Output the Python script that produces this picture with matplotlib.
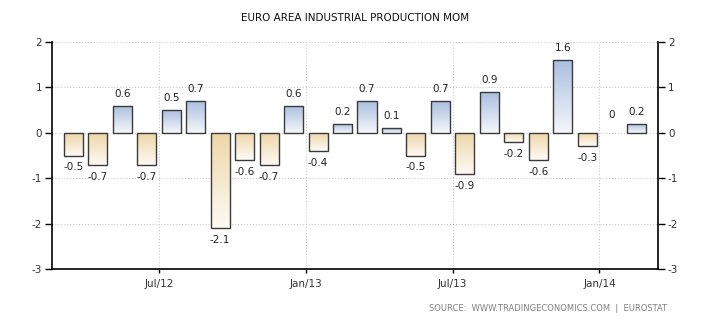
import numpy as np
import matplotlib
matplotlib.use('Agg')
import matplotlib.pyplot as plt
from matplotlib.colors import LinearSegmentedColormap

# Euro area industrial production, month over month (%), Mar 2012 - Feb 2014
months = ['Mar/12', 'Apr/12', 'May/12', 'Jun/12', 'Jul/12', 'Aug/12', 'Sep/12', 'Oct/12',
          'Nov/12', 'Dec/12', 'Jan/13', 'Feb/13', 'Mar/13', 'Apr/13', 'May/13', 'Jun/13',
          'Jul/13', 'Aug/13', 'Sep/13', 'Oct/13', 'Nov/13', 'Dec/13', 'Jan/14', 'Feb/14']
values = [-0.5, -0.7, 0.6, -0.7, 0.5, 0.7, -2.1, -0.6, -0.7, 0.6, -0.4, 0.2,
          0.7, 0.1, -0.5, 0.7, -0.9, 0.9, -0.2, -0.6, 1.6, -0.3, 0.0, 0.2]
tick_labels = ['Jul/12', 'Jan/13', 'Jul/13', 'Jan/14']
yticks = [-3, -2, -1, 0, 1, 2]

plt.rcParams['font.family'] = 'DejaVu Sans'

fig = plt.figure(figsize=(7.1, 3.25), dpi=100)
ax = fig.add_axes([0.073, 0.172, 0.854, 0.699])

x = np.arange(len(values))
width = 0.78

blue = LinearSegmentedColormap.from_list('blue', ['#f5f7fb', '#aabfdf'])
tan = LinearSegmentedColormap.from_list('tan', ['#fdfaf4', '#efd6a8'])
grad = np.linspace(0, 1, 64).reshape(-1, 1)

edges = ['none' if v == 0 else '#3a3a3a' for v in values]
bars = ax.bar(x, values, width=width, facecolor='none', edgecolor=edges,
              linewidth=1.0, zorder=3)
for b, v in zip(bars, values):
    if v == 0:
        continue
    x0, y0 = b.get_x(), b.get_y()
    w, h = b.get_width(), b.get_height()
    ylo, yhi = min(y0, y0 + h), max(y0, y0 + h)
    cmap = blue if v > 0 else tan
    # colour is strongest at the top of every bar, fading to white at its base
    im = ax.imshow(grad, cmap=cmap, aspect='auto', origin='lower',
                   extent=(x0, x0 + w, ylo, yhi), zorder=2)
    im.set_clip_path(b)

# value labels
for xi, v in zip(x, values):
    lab = '0' if v == 0 else f'{v:g}'
    if v >= 0:
        off = 9 if v == 0 else 5
        ax.annotate(lab, (xi, v), xytext=(0, off), textcoords='offset points',
                    ha='center', va='bottom', fontsize=7.5, color='#222222')
    else:
        ax.annotate(lab, (xi, v), xytext=(0, -5), textcoords='offset points',
                    ha='center', va='top', fontsize=7.5, color='#222222')

ax.set_xlim(-0.88, 23.9)
ax.set_ylim(-3, 2)

tick_pos = [months.index(m) - 0.5 for m in tick_labels]
ax.set_xticks(tick_pos)
ax.set_xticklabels(tick_labels, fontsize=7.5, color='#333333')
ax.set_yticks(yticks)
ax.set_yticklabels([str(t) for t in yticks], fontsize=7.5, color='#333333')
ax.tick_params(axis='x', length=3, width=1, direction='out', pad=4)
ax.tick_params(axis='y', length=5, width=1, direction='out', pad=2,
               left=True, right=True, labelleft=True, labelright=True)

ax.grid(True, color='#cccccc', linestyle=':', linewidth=0.8, zorder=0)
ax.set_axisbelow(True)

ax.spines['top'].set_visible(False)
for s in ['left', 'right', 'bottom']:
    ax.spines[s].set_color('black')
    ax.spines[s].set_linewidth(1.2)

fig.text(0.5, 0.945, 'EURO AREA INDUSTRIAL PRODUCTION MOM', ha='center', va='center',
         fontsize=7.5, color='#111111')
fig.text(0.94, 0.05, 'SOURCE:  WWW.TRADINGECONOMICS.COM  |  EUROSTAT', ha='right',
         va='center', fontsize=6, color='#808080')

fig.savefig('out.png', dpi=100)
